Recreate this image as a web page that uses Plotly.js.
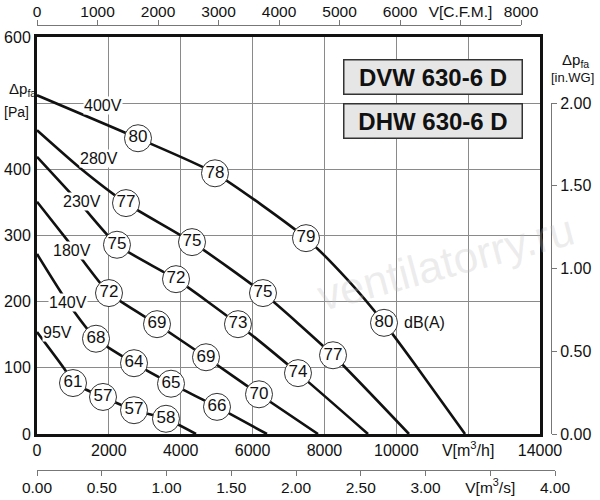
<!DOCTYPE html>
<html>
<head>
<meta charset="utf-8">
<script src="https://cdn.plot.ly/plotly-3.0.1.min.js"></script>
<style>html,body{margin:0;padding:0;background:#fff;}#chart{width:600px;height:500px;}</style>
</head>
<body>
<div id="chart"></div>
<script>
// ---- data ----
// flow V [m3/h], static pressure dp_fa [Pa]
const voltages = ['400V', '280V', '230V', '180V', '140V', '95V'];

const V_400 = [0, 2811, 4954, 7487, 8628, 9658, 10577, 11913];
const P_400 = [512, 447, 394, 296, 234, 168, 101, 0];
const V_280 = [0, 1197, 2477, 4314, 6290, 8239, 10354];
const P_280 = [459, 402, 349, 290, 213, 119, 0];
const V_230 = [0, 1252, 2226, 3869, 5594, 7264, 9213];
const P_230 = [419, 345, 286, 234, 166, 92, 0];
const V_180 = [0, 974, 2004, 3340, 4704, 6179, 7821];
const P_180 = [351, 284, 213, 166, 116, 60, 0];
const V_140 = [0, 863, 1642, 2700, 3730, 5010, 6400];
const P_140 = [272, 198, 144, 107, 76, 41, 0];
const V_95  = [0, 779, 1002, 1837, 2700, 3590, 4425];
const P_95  = [154, 97, 77, 56, 36, 23, 0];

// sound level bubbles dB(A)
const bV_400 = [2811, 4954, 7487, 9658];  const bP_400 = [447, 394, 296, 168]; const dB_400 = ['80', '78', '79', '80'];
const bV_280 = [2477, 4314, 6290, 8239];  const bP_280 = [349, 290, 213, 119]; const dB_280 = ['77', '75', '75', '77'];
const bV_230 = [2226, 3869, 5594, 7264];  const bP_230 = [286, 234, 166, 92];  const dB_230 = ['75', '72', '73', '74'];
const bV_180 = [2004, 3340, 4704, 6179];  const bP_180 = [213, 166, 116, 60];  const dB_180 = ['72', '69', '69', '70'];
const bV_140 = [1642, 2700, 3730, 5010];  const bP_140 = [144, 107, 76, 41];   const dB_140 = ['68', '64', '65', '66'];
const bV_95  = [1002, 1837, 2700, 3590];  const bP_95  = [77, 56, 36, 23];     const dB_95  = ['61', '57', '57', '58'];

// voltage label anchors (data units)
const labelV = [1837, 1726, 1252, 974, 863, 584];
const labelP = [497, 417, 351, 278, 198, 153];

// axis ticks
const xTicks = [0, 2000, 4000, 6000, 8000, 10000, 12000, 14000];
const xTickText = ['0', '2000', '4000', '6000', '8000', '10000', 'V[m<sup>3</sup>/h]', '14000'];
const yTicks = [0, 100, 200, 300, 400, 500, 600];
const yTickText = ['0', '100', '200', '300', '400', '', '600'];
const cfmTicks = [0, 1000, 2000, 3000, 4000, 5000, 6000, 7000, 8000];
const cfmTickText = ['0', '1000', '2000', '3000', '4000', '5000', '6000', 'V[C.F.M.]', '8000'];
const m3sTicks = [0, 0.5, 1, 1.5, 2, 2.5, 3, 3.5, 4];
const m3sTickText = ['0.00', '0.50', '1.00', '1.50', '2.00', '2.50', '3.00', 'V[m<sup>3</sup>/s]', '4.00'];
const wgTicks = [0, 0.5, 1, 1.5, 2];
const wgTickText = ['0.00', '0.50', '1.00', '1.50', '2.00'];

const titles = ['DVW 630-6 D', 'DHW 630-6 D'];

// ---- build ----
const FONT = 'Liberation Sans, Arial, Helvetica, sans-serif';
const curves = [[V_400, P_400], [V_280, P_280], [V_230, P_230], [V_180, P_180], [V_140, P_140], [V_95, P_95]];
const bubbles = [[bV_400, bP_400, dB_400], [bV_280, bP_280, dB_280], [bV_230, bP_230, dB_230],
                 [bV_180, bP_180, dB_180], [bV_140, bP_140, dB_140], [bV_95, bP_95, dB_95]];

const traces = [];
curves.forEach((c, i) => {
  traces.push({
    x: c[0], y: c[1], type: 'scatter', mode: 'lines', name: voltages[i],
    line: {color: '#111', width: 2.6, shape: 'spline', smoothing: 0.6},
    hoverinfo: 'skip', showlegend: false, xaxis: 'x', yaxis: 'y', cliponaxis: true
  });
});
bubbles.forEach((b, i) => {
  traces.push({
    x: b[0], y: b[1], text: b[2], type: 'scatter', mode: 'markers+text',
    marker: {symbol: 'circle', size: 27, color: '#fff', line: {color: '#333', width: 1}},
    textposition: 'middle center', textfont: {family: FONT, size: 17, color: '#111'},
    hoverinfo: 'skip', showlegend: false, xaxis: 'x', yaxis: 'y', cliponaxis: false
  });
});
// dummy traces to activate secondary axes
traces.push({x: [null], y: [null], xaxis: 'x2', yaxis: 'y2', type: 'scatter', mode: 'markers', showlegend: false, hoverinfo: 'skip'});
traces.push({x: [null], y: [null], xaxis: 'x3', yaxis: 'y2', type: 'scatter', mode: 'markers', showlegend: false, hoverinfo: 'skip'});

const annotations = [];
voltages.forEach((v, i) => {
  annotations.push({
    x: labelV[i], y: labelP[i], xref: 'x', yref: 'y', text: v, showarrow: false,
    xanchor: 'center', yanchor: 'middle',
    font: {family: FONT, size: 16, color: '#111'}, bgcolor: '#fff', borderpad: 0
  });
});
// dB(A) next to last 400V bubble
annotations.push({
  x: bV_400[bV_400.length - 1], y: bP_400[bP_400.length - 1], xref: 'x', yref: 'y',
  text: 'dB(A)', showarrow: false, xanchor: 'left', yanchor: 'middle', xshift: 18,
  font: {family: FONT, size: 16, color: '#111'}
});
// title boxes
titles.forEach((t, i) => {
  annotations.push({
    x: 432.5 / 600, y: i === 0 ? (500 - 76.5) / 500 : (500 - 120.5) / 500, xref: 'paper', yref: 'paper',
    xanchor: 'center', yanchor: 'middle',
    text: '<b>' + t + '</b>', showarrow: false, font: {family: FONT, size: 24, color: '#111'},
    bgcolor: '#e6e6e6', bordercolor: '#333', borderwidth: 1.5, borderpad: 1, width: 175, height: 31,
    align: 'center', valign: 'middle'
  });
});
// axis titles
const axT = (x, y, text, size) => ({x: x / 600, y: (500 - y) / 500, xref: 'paper', yref: 'paper', xanchor: 'center', yanchor: 'middle',
  text: text, showarrow: false, font: {family: FONT, size: size, color: '#111'}});
annotations.push(axT(22, 89, 'Δp<sub>fa</sub>', 15));
annotations.push(axT(16, 112, '[Pa]', 14));
annotations.push(axT(575, 60, 'Δp<sub>fa</sub>', 15));
annotations.push(axT(572, 77, '[in.WG]', 13));
// watermark
annotations.push({x: 445 / 600, y: (500 - 262) / 500, xref: 'paper', yref: 'paper', xanchor: 'center', yanchor: 'middle',
  text: 'ventilatorry.ru', showarrow: false, textangle: -15, font: {family: FONT, size: 44, color: 'rgba(190,190,190,0.28)'}});

const tickFont = {family: FONT, size: 16, color: '#111'};
const secFont = {family: FONT, size: 15.5, color: '#111'};

const layout = {
  width: 600, height: 500,
  margin: {l: 0, r: 0, t: 0, b: 0, pad: 0},
  paper_bgcolor: '#fff', plot_bgcolor: 'rgba(0,0,0,0)',
  showlegend: false,
  font: {family: FONT, color: '#111'},
  xaxis: {
    domain: [37 / 600, 540 / 600], range: [0, 14000], anchor: 'y',
    tickmode: 'array', tickvals: xTicks, ticktext: xTickText, tickfont: tickFont,
    showgrid: true, gridcolor: '#8a8a8a', gridwidth: 1, zeroline: false,
    showline: true, linecolor: '#111', linewidth: 3, mirror: true, ticks: '', fixedrange: true
  },
  yaxis: {
    domain: [66 / 500, 463 / 500], range: [0, 600], anchor: 'x',
    tickmode: 'array', tickvals: yTicks, ticktext: yTickText, tickfont: tickFont,
    showgrid: true, gridcolor: '#8a8a8a', gridwidth: 1, zeroline: false,
    showline: true, linecolor: '#111', linewidth: 3, mirror: true, ticks: '', fixedrange: true
  },
  xaxis2: {
    domain: [37 / 600, 521 / 600], range: [0, 8000], anchor: 'free', position: 475 / 500, side: 'top',
    tickmode: 'array', tickvals: cfmTicks, ticktext: cfmTickText, tickfont: secFont,
    showgrid: false, zeroline: false, showline: true, linecolor: '#777', linewidth: 1,
    ticks: 'outside', ticklen: 5, tickcolor: '#777', tickwidth: 1, fixedrange: true, ticklabelstandoff: -3
  },
  xaxis3: {
    domain: [37 / 600, 555 / 600], range: [0, 4], anchor: 'free', position: 30 / 500, side: 'bottom',
    tickmode: 'array', tickvals: m3sTicks, ticktext: m3sTickText, tickfont: secFont,
    showgrid: false, zeroline: false, showline: true, linecolor: '#777', linewidth: 1,
    ticks: 'outside', ticklen: 5, tickcolor: '#777', tickwidth: 1, fixedrange: true, ticklabelstandoff: -2
  },
  yaxis2: {
    domain: [66 / 500, 397 / 500], range: [0, 2], anchor: 'free', position: 551 / 600, side: 'right',
    tickmode: 'array', tickvals: wgTicks, ticktext: wgTickText, tickfont: tickFont,
    showgrid: false, zeroline: false, showline: true, linecolor: '#777', linewidth: 1,
    ticks: 'outside', ticklen: 5, tickcolor: '#777', tickwidth: 1, fixedrange: true
  },
  annotations: annotations
};

Plotly.newPlot('chart', traces, layout, {staticPlot: true, displayModeBar: false});
</script>
</body>
</html>
